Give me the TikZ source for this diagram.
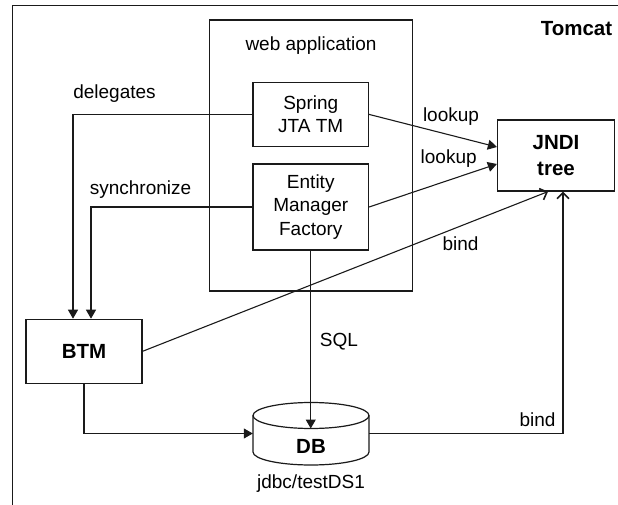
\documentclass[tikz,border=0pt]{standalone}
\usepackage{fontspec}
\setmainfont{Liberation Sans}
\usetikzlibrary{arrows.meta,calc}
\definecolor{ink}{HTML}{1A1A1A}
\tikzset{
  box/.style={draw=ink, line width=1.2pt, inner sep=0pt, align=center, text=black},
  reg/.style={font=\fontsize{19}{23.4}\selectfont},
  bld/.style={font=\fontsize{20.5}{26}\selectfont\bfseries},
  lbl/.style={anchor=base, inner sep=0pt, font=\fontsize{19}{23.4}\selectfont, text=black},
  conn/.style={draw=ink, line width=1.1pt},
  fa/.style={conn, -{Triangle[length=9pt,width=10pt]}},
  oa/.style={conn, -{Straight Barb[length=6pt,width=12pt,line width=1.6pt]}}
}
\begin{document}
\begin{tikzpicture}[x=1pt,y=-1pt]
\useasboundingbox (0,0) rectangle (618,505);
\begin{scope}
  \clip (0,0) rectangle (618,505);
  \draw[draw=ink, line width=1.2pt] (12.3,520) -- (12.3,5.3) -- (630,5.3);
\end{scope}
\node[lbl, font=\fontsize{20.5}{26}\selectfont\bfseries] (tomcat) at (576.5,36) {Tomcat};

% web application container
\node[box, minimum width=203pt, minimum height=271pt] (webapp) at (311,155.5) {};
\node[lbl] (webapplbl) at (311,51) {web application};

% inner boxes
\node[box, reg, minimum width=115.5pt, minimum height=64pt] (spring) at (310.75,114.4) {Spring\\JTA TM};
\node[box, reg, minimum width=115.5pt, minimum height=86pt] (emf) at (310.75,207) {Entity\\Manager\\Factory};
\node[box, bld, minimum width=117pt, minimum height=71pt] (jndi) at (556,155.5) {JNDI\\tree};
\node[box, bld, minimum width=116pt, minimum height=64pt] (btm) at (84,351.3) {BTM};

% DB cylinder
\node[inner sep=0pt, minimum width=116pt, minimum height=63pt] (db) at (311,433.5) {};
\coordinate (dbtop) at (311,428.5);
\draw[draw=ink, line width=1.2pt, fill=white] (253,415.5) -- (253,452)
   arc[start angle=180, end angle=360, x radius=58pt, y radius=13pt] -- (369,415.5);
\draw[draw=ink, line width=1.2pt] (311,415.5) ellipse [x radius=58pt, y radius=13pt];
\node[lbl, font=\fontsize{20.5}{26}\selectfont\bfseries] (dbtext) at (311,453.5) {DB};
\node[lbl] (dbname) at (311,488) {jdbc/testDS1};

% connectors
\draw[fa] (spring.west) -| ([xshift=-11pt]btm.north);
\draw[fa] (emf.west) -| ([xshift=7pt]btm.north);
\draw[fa] (spring.east) -- ([yshift=8.5pt]jndi.west);
\draw[fa] (emf.east) -- ([yshift=-8.5pt]jndi.west);
\draw[oa] (btm.east) -- ([xshift=-8pt]jndi.south);
\draw[oa] (db.east) -| ([xshift=7pt]jndi.south);
\draw[fa] (btm.south) |- (db.west);
\draw[fa] (emf.south) -- (emf.south |- dbtop);

% labels
\node[lbl] (ldeleg) at (114.5,99) {delegates};
\node[lbl] (lsync) at (140.5,194) {synchronize};
\node[lbl] (llook1) at (451,121.5) {lookup};
\node[lbl] (llook2) at (448.7,163.5) {lookup};
\node[lbl] (lbind1) at (460.5,250.5) {bind};
\node[lbl] (lsql) at (339,346.5) {SQL};
\node[lbl] (lbind2) at (537.5,426) {bind};
\end{tikzpicture}
\end{document}
